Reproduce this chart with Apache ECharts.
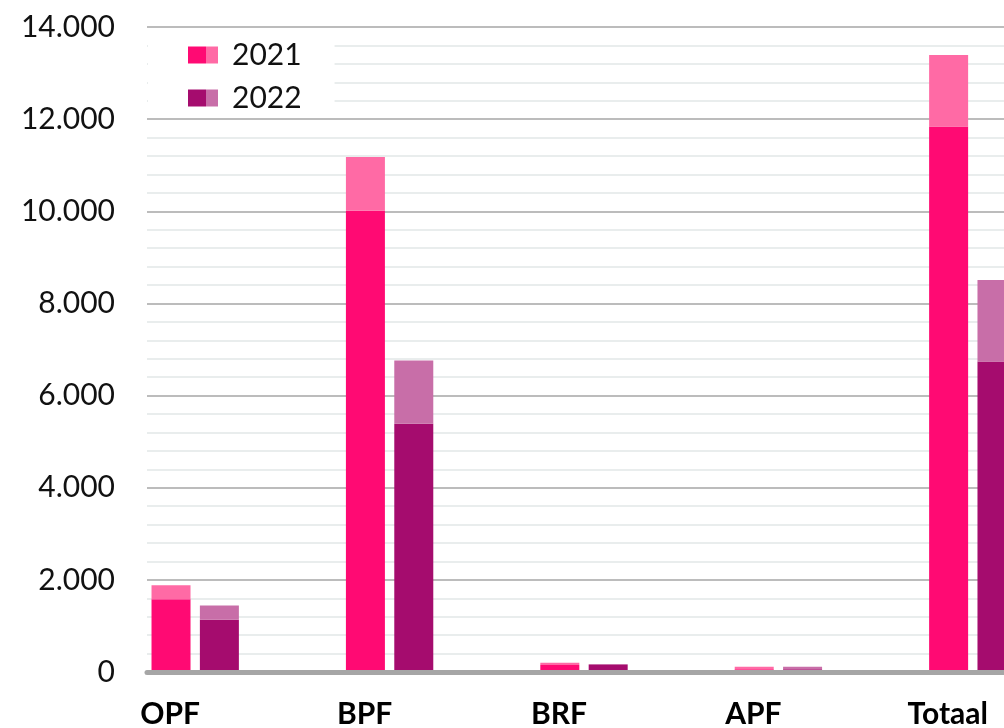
<!DOCTYPE html>
<html>
<head>
<meta charset="utf-8">
<script src="https://cdn.jsdelivr.net/npm/echarts@6/dist/echarts.min.js"></script>
<style>
  html, body { margin: 0; padding: 0; background: #fff; }
  #chart { width: 1004px; height: 728px; }
</style>
</head>
<body>
<div id="chart"></div>
<script>
const categories = ['OPF', 'BPF', 'BRF', 'APF', 'Totaal']
const years = ['2021', '2022']
// dark (base) part and light (top) part of each bar
const base2021 = [1580, 10010, 150, 60, 11840]
const extra2021 = [305, 1170, 50, 55, 1550]
const base2022 = [1135, 5390, 150, 60, 6740]
const extra2022 = [310, 1370, 25, 55, 1770]
const yMin = 0
const yMax = 14000
const yStep = 2000

const colors = {
  dark2021: '#ff0a73',
  light2021: '#ff6aa5',
  dark2022: '#a50c6e',
  light2022: '#c86ea8'
}
const font = 'Lato, "Open Sans", sans-serif'

let myChart = echarts.init(document.getElementById('chart'))

let fmt = v => String(v).replace(/\B(?=(\d{3})+(?!\d))/g, '.')

let option = {
  animation: false,
  grid: [
    // background grid: gridlines, y labels, axis line
    { left: 147, right: 0, top: 27, bottom: 56, outerBoundsMode: 'none' },
    // bars (runs past the right edge, last group is cut off)
    { left: 98, width: 972, top: 27, bottom: 56, outerBoundsMode: 'none' }
  ],
  legend: {
    data: years,
    orient: 'vertical',
    left: 148,
    top: 33,
    padding: [7, 33, 3, 35],
    backgroundColor: '#fff',
    itemGap: 13,
    itemWidth: 0,
    itemHeight: 17,
    selectedMode: false,
    formatter: name => name === '2021'
      ? '{d1|}{l1|}{t|' + name + '}'
      : '{d2|}{l2|}{t|' + name + '}',
    textStyle: {
      fontFamily: font,
      fontSize: 30,
      color: '#111',
      lineHeight: 30,
      rich: {
        d1: { width: 18, height: 17, backgroundColor: colors.dark2021, verticalAlign: 'middle' },
        l1: { width: 12, height: 17, backgroundColor: colors.light2021, verticalAlign: 'middle' },
        d2: { width: 18, height: 17, backgroundColor: colors.dark2022, verticalAlign: 'middle' },
        l2: { width: 12, height: 17, backgroundColor: colors.light2022, verticalAlign: 'middle' },
        t: { fontFamily: font, fontSize: 30, color: '#111', padding: [0, 0, 0, 14], verticalAlign: 'middle', lineHeight: 30 }
      }
    }
  },
  xAxis: [
    {
      gridIndex: 0,
      type: 'category',
      data: categories,
      z: 5,
      axisLine: { show: true, lineStyle: { color: '#a6a6a6', width: 5 } },
      axisTick: { show: false },
      axisLabel: { show: false }
    },
    {
      gridIndex: 1,
      type: 'category',
      data: categories,
      axisLine: { show: false },
      axisTick: { show: false },
      axisLabel: {
        margin: 27,
        padding: [0, 50, 0, 0],
        fontFamily: font,
        fontSize: 30,
        fontWeight: 'bold',
        color: '#000'
      }
    }
  ],
  yAxis: [
    {
      gridIndex: 0,
      type: 'value',
      min: yMin,
      max: yMax,
      interval: yStep,
      axisLine: { show: false },
      axisTick: { show: false },
      axisLabel: {
        margin: 32,
        fontFamily: font,
        fontSize: 30,
        color: '#111',
        formatter: fmt
      },
      splitLine: { show: true, lineStyle: { color: '#a6a6a6', width: 1.5 } },
      minorTick: { show: false, splitNumber: 5 },
      minorSplitLine: { show: true, lineStyle: { color: '#e2e8e8', width: 1.5 } }
    },
    {
      gridIndex: 1,
      type: 'value',
      min: yMin,
      max: yMax,
      interval: yStep,
      show: false,
      splitLine: { show: false }
    }
  ],
  series: [
    {
      name: '2021',
      type: 'bar',
      stack: '2021',
      xAxisIndex: 1,
      yAxisIndex: 1,
      barWidth: 39,
      barGap: '24%',
      itemStyle: { color: colors.dark2021 },
      data: base2021
    },
    {
      name: '2021 extra',
      type: 'bar',
      stack: '2021',
      xAxisIndex: 1,
      yAxisIndex: 1,
      barWidth: 39,
      barGap: '24%',
      itemStyle: { color: colors.light2021 },
      data: extra2021
    },
    {
      name: '2022',
      type: 'bar',
      stack: '2022',
      xAxisIndex: 1,
      yAxisIndex: 1,
      barWidth: 39,
      barGap: '24%',
      itemStyle: { color: colors.dark2022 },
      data: base2022
    },
    {
      name: '2022 extra',
      type: 'bar',
      stack: '2022',
      xAxisIndex: 1,
      yAxisIndex: 1,
      barWidth: 39,
      barGap: '24%',
      itemStyle: { color: colors.light2022 },
      data: extra2022
    }
  ]
}
myChart.setOption(option)
</script>
</body>
</html>
